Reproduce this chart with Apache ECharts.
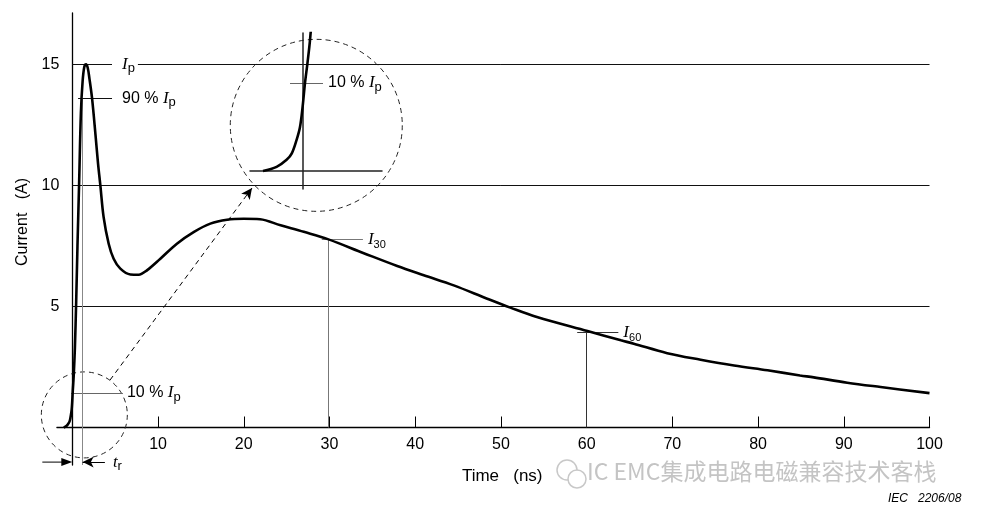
<!DOCTYPE html>
<html><head><meta charset="utf-8">
<script src="https://cdn.jsdelivr.net/npm/echarts@6/dist/echarts.min.js"></script>
<style>html,body{margin:0;padding:0;background:#fff}#c{width:981px;height:517px}</style>
</head><body><div id="c"></div>
<script>
// ---- data ----
const times = [-1.0,-0.66,-0.41,-0.28,-0.16,-0.075,-0.01,0.05,0.11,0.175,0.3,0.45,0.6,0.8,1.0,1.2,1.4,1.6,1.8,2.0,2.3,2.7,3.0,3.27,3.65,4.24,4.82,5.6,6.77,7.74,8.7,10.27,12.2,14.15,16.1,18.05,20.0,21.9,24.3,27.0,29.8,34.0,37.9,41.0,44.5,48.4,51.1,54.2,60.1,64.0,65.5,69.4,73.3,77.2,81.1,84.9,86.5,90.4,94.3,100.0];
const currents = [0,0.07,0.19,0.30,0.53,0.75,1.09,1.5,1.83,2.23,3.3,5.2,7.5,10.2,13.0,14.3,14.9,15.0,14.85,14.4,13.6,12.1,10.9,10.0,8.69,7.59,6.97,6.56,6.32,6.31,6.49,6.97,7.59,8.07,8.42,8.58,8.62,8.6,8.35,8.08,7.78,7.2,6.67,6.29,5.87,5.32,4.95,4.56,3.98,3.6,3.46,3.07,2.8,2.56,2.36,2.15,2.07,1.85,1.67,1.42];
const xTickValues = [10,20,30,40,50,60,70,80,90,100];
const yTickValues = [5,10,15];
const gridLevels = [5,10,15];
const peakLevel = 15, level90 = 13.6, level10 = 1.43;
const t10 = 0, t90 = 1.2;
const i30 = [29.8, 7.78], i60 = [60.0, 3.93];

const curve = times.map((t,k)=>[t,currents[k]]);
const chart = echarts.init(document.getElementById('c'));
const SANS = 'Liberation Sans, Arial, sans-serif';
const rich = {
  n:{fontSize:16,fontFamily:SANS,color:'#000',lineHeight:22},
  i:{fontSize:17,fontFamily:'Liberation Serif, serif',fontStyle:'italic',color:'#000',lineHeight:22},
  s:{fontSize:13,fontFamily:SANS,color:'#000',verticalAlign:'bottom'},
  d:{fontSize:11,fontFamily:SANS,color:'#000',verticalAlign:'bottom'}
};
const hl = (a,b,color,label)=>{
  const p=[{coord:a,lineStyle:{color:color}},{coord:b}];
  p[0].label = label ? label : {show:false};
  return p;
};
chart.setOption({
  animation:false,
  grid:[{left:56.9,right:51.5,top:13,bottom:52,containLabel:false,outerBoundsMode:'none'},
        {left:250,top:33,width:132,height:156,containLabel:false,outerBoundsMode:'none'}],
  xAxis:[{type:'value',min:-1.8,max:100,gridIndex:0,offset:-37.5,
    name:'Time   (ns)',nameLocation:'middle',nameGap:40,
    nameTextStyle:{fontSize:17,fontFamily:SANS,color:'#000',padding:[0,0,0,18]},
    axisLine:{onZero:false,lineStyle:{color:'#000',width:1.3}},
    axisTick:{inside:true,length:11,customValues:xTickValues,lineStyle:{color:'#000',width:1}},
    axisLabel:{customValues:xTickValues,fontSize:16,fontFamily:SANS,color:'#000',margin:9},
    splitLine:{show:false}},
   {type:'value',min:-1.325,max:1.975,gridIndex:1,z:10,
    axisLine:{onZero:true,lineStyle:{color:'#222',width:1.5}},axisTick:{show:false},axisLabel:{show:false},splitLine:{show:false}}],
  yAxis:[{type:'value',min:-1.55,max:17.12,gridIndex:0,offset:-15.4,
    name:'Current   (A)',nameLocation:'middle',nameGap:40,
    nameTextStyle:{fontSize:16,fontFamily:SANS,color:'#000',padding:[0,0,0,34]},
    axisLine:{onZero:false,lineStyle:{color:'#000',width:1.3}},
    axisTick:{show:false},
    axisLabel:{customValues:yTickValues,fontSize:16,fontFamily:SANS,color:'#000',margin:13},
    splitLine:{show:false}},
   {type:'value',min:-0.307,max:2.35,gridIndex:1,z:10,
    axisLine:{onZero:true,lineStyle:{color:'#222',width:1.5}},axisTick:{show:false},axisLabel:{show:false},splitLine:{show:false}}],
  series:[
    {type:'line',data:[],z:1,silent:true,
     markLine:{silent:true,symbol:'none',animation:false,
       lineStyle:{color:'#111',width:1,type:'solid'},label:{show:false},
       data:gridLevels.map(v=>[{coord:[0,v]},{coord:[100,v]}])}},
    {type:'line',data:[],z:4,silent:true,clip:false,
     markLine:{silent:true,symbol:'none',animation:false,
       lineStyle:{color:'#111',width:1,type:'solid'},
       label:{show:true,position:'end',rich:rich},
       data:[
         hl([0,peakLevel],[4.63,peakLevel],'#111',{formatter:'{i|I}{s|p}',backgroundColor:'#fff',padding:[2,3,2,10],distance:0,rich:rich}),
         hl([0.67,level90],[4.63,level90],'#111',{formatter:'{n|90 % }{i|I}{s|p}',distance:10,rich:rich}),
         hl([-0.15,level10],[5.9,level10],'#666',{formatter:'{n|10 % }{i|I}{s|p}',distance:4,rich:rich}),
         hl([t90,level90],[t90,-1.55],'#888'),
         hl([29.1,i30[1]],[33.9,i30[1]],'#777',{formatter:'{i|I}{d|30}',distance:5,rich:rich}),
         hl([i30[0],i30[1]],[i30[0],0],'#777'),
         hl([58.9,i60[1]],[63.7,i60[1]],'#333',{formatter:'{i|I}{d|60}',distance:5,rich:rich}),
         hl([i60[0],i60[1]],[i60[0],0],'#333'),
         [{coord:[3.8,-1.43],symbol:'none',lineStyle:{color:'#000'},label:{show:true,position:'start',distance:8,formatter:'{i|t}{s|r}',rich:rich}},{coord:[t90,-1.43],symbol:'arrow',symbolSize:[8,11]}],
         [{coord:[4.4,1.96],symbol:'none',label:{show:false},lineStyle:{color:'#000',type:[5,4]}},{coord:[20.96,9.89],symbol:'arrow',symbolSize:[8,11]}]
       ]}},
    {type:'line',data:curve,z:5,showSymbol:false,smooth:0.35,silent:true,
     lineStyle:{color:'#000',width:2.6}},
    {type:'line',data:curve,xAxisIndex:1,yAxisIndex:1,z:11,showSymbol:false,smooth:0.35,silent:true,clip:true,
     lineStyle:{color:'#000',width:2.6},
     markLine:{silent:true,symbol:'none',animation:false,
       lineStyle:{color:'#666',width:1.2,type:'solid'},
       label:{show:true,position:'end',distance:5,formatter:'{n|10 % }{i|I}{s|p}',rich:rich},
       data:[[{coord:[-0.325,1.5]},{coord:[0.5,1.5]}]]}}
  ]
});
const c1 = chart.convertToPixel({gridIndex:0},[1.4,0.52]);
const c2 = chart.convertToPixel({gridIndex:0},[28.46,12.48]);
const a0 = chart.convertToPixel({gridIndex:0},[-3.5,-1.43]);
const a1 = chart.convertToPixel({gridIndex:0},[t10,-1.43]);
chart.setOption({graphic:[
  {type:'circle',z:3,shape:{cx:c1[0],cy:c1[1],r:43},style:{fill:null,stroke:'#222',lineWidth:1,lineDash:[5,4]}},
  {type:'circle',z:3,shape:{cx:c2[0],cy:c2[1],r:86},style:{fill:'#fff',stroke:'#222',lineWidth:1,lineDash:[5,4]}},
  {type:'line',z:6,shape:{x1:a0[0],y1:a0[1],x2:a1[0]-8,y2:a1[1]},style:{stroke:'#000',lineWidth:1}},
  {type:'polygon',z:6,shape:{points:[[a1[0],a1[1]],[a1[0]-11,a1[1]-4],[a1[0]-11,a1[1]+4]]},style:{fill:'#000'}},
  {type:'text',z:20,left:587,top:460,style:{text:'IC EMC集成电路电磁兼容技术客栈',fontSize:23,fontFamily:'Noto Sans CJK SC, sans-serif',fill:'#c4c4c4'}},
  {type:'circle',z:20,shape:{cx:567,cy:470,r:10},style:{fill:null,stroke:'#c8c8c8',lineWidth:1.5}},
  {type:'circle',z:20,shape:{cx:577,cy:479,r:9},style:{fill:'#fff',stroke:'#c8c8c8',lineWidth:1.5}},
  {type:'text',z:20,left:888,top:493,style:{text:'IEC   2206/08',fontSize:12,fontStyle:'italic',fontFamily:SANS,fill:'#000'}}
]});
</script></body></html>
